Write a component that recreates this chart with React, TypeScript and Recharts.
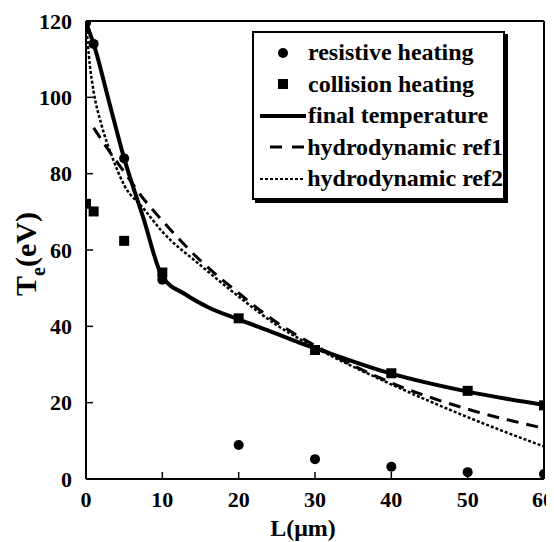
import { ComposedChart, Line, Scatter, XAxis, YAxis, Legend } from "recharts";

// L (µm) positions and Te (eV) values
const resistiveL = [0, 1, 5, 10, 20, 30, 40, 50, 60];
const resistiveT = [119.5, 114, 84, 52.2, 8.9, 5.2, 3.2, 1.8, 1.3];

const collisionL = [0, 1, 5, 10, 20, 30, 40, 50, 60];
const collisionT = [72.1, 70.1, 62.4, 54.1, 42.1, 33.8, 27.7, 23.1, 19.3];

const finalL = [0, 1, 3, 5, 7.5, 10, 13, 16, 20, 24, 28, 30, 40, 50, 60];
const finalT = [119.5, 114, 99, 84, 68.5, 53, 48.4, 45, 41.8, 38.8, 35.7, 34.3, 27.6, 22.9, 19.4];

const ref1L = [1, 3, 5, 7.5, 10, 15, 20, 25, 30, 40, 50, 60];
const ref1T = [92, 86, 80.5, 73.5, 67.7, 57.2, 48.7, 41, 35, 25.2, 18.3, 13.3];

const ref2L = [0, 0.5, 1, 2, 3.5, 5, 7.5, 10, 15, 20, 25, 30, 40, 50, 60];
const ref2T = [120, 108.5, 101.5, 93, 84, 77, 71, 64.8, 56, 47.8, 40.3, 34.5, 24.8, 16.2, 8.5];

const xTicks = [0, 10, 20, 30, 40, 50, 60];
const yTicks = [0, 20, 40, 60, 80, 100, 120];

const toPoints = (xs: number[], ys: number[]) => xs.map((x, i) => ({ x, y: ys[i] }));

const resistive = toPoints(resistiveL, resistiveT);
const collision = toPoints(collisionL, collisionT);
const finalTemp = toPoints(finalL, finalT);
const ref1 = toPoints(ref1L, ref1T);
const ref2 = toPoints(ref2L, ref2T);

const FONT = "Liberation Serif";

const tickStyle = { fontFamily: FONT, fontWeight: "bold", fontSize: 22, fill: "#000" };

const Dot = (props: any) => <circle cx={props.cx} cy={props.cy} r={5} fill="#000" />;
const Sq = (props: any) => (
  <rect x={props.cx - 5} y={props.cy - 5} width={10} height={10} fill="#000" />
);

const legendRows = [
  { label: "resistive heating", kind: "dot" },
  { label: "collision heating", kind: "square" },
  { label: "final temperature", kind: "solid" },
  { label: "hydrodynamic ref1", kind: "dashed" },
  { label: "hydrodynamic ref2", kind: "dotted" },
];

function LegendSymbol({ kind }: { kind: string }) {
  return (
    <svg width={46} height={20} style={{ display: "block" }}>
      {kind === "dot" && <circle cx={23} cy={10} r={5} fill="#000" />}
      {kind === "square" && <rect x={18} y={5} width={10} height={10} fill="#000" />}
      {kind === "solid" && <line x1={0} x2={46} y1={10} y2={10} stroke="#000" strokeWidth={4} />}
      {kind === "dashed" && (
        <line x1={10} x2={44} y1={10} y2={10} stroke="#000" strokeWidth={3} strokeDasharray="12 10" />
      )}
      {kind === "dotted" && (
        <line x1={0} x2={44} y1={10} y2={10} stroke="#000" strokeWidth={2} strokeDasharray="3 2" />
      )}
    </svg>
  );
}

function LegendBox() {
  return (
    <div
      style={{
        border: "2px solid #000",
        boxShadow: "3px 3px 0 #000",
        background: "#fff",
        padding: "4px 0 3px 6px",
        boxSizing: "border-box",
        width: 253,
      }}
    >
      {legendRows.map((r) => (
        <div
          key={r.label}
          style={{ display: "flex", alignItems: "center", height: 31.5, fontFamily: FONT, fontWeight: "bold", fontSize: 24 }}
        >
          <LegendSymbol kind={r.kind} />
          <span style={{ marginLeft: 2, whiteSpace: "nowrap" }}>{r.label}</span>
        </div>
      ))}
    </div>
  );
}

const YLabel = (props: any) => {
  const vb = props.viewBox;
  const cx = vb.x + 28;
  const cy = vb.y + vb.height / 2 + 4;
  return (
    <text
      x={cx}
      y={cy}
      transform={`rotate(-90, ${cx}, ${cy})`}
      textAnchor="middle"
      fontFamily={FONT}
      fontWeight="bold"
      fontSize={30}
      fill="#000"
    >
      <tspan>T</tspan>
      <tspan dy={9} fontSize={20}>e</tspan>
      <tspan dy={-9}>(eV)</tspan>
    </text>
  );
};

const XLabel = (props: any) => {
  const vb = props.viewBox;
  return (
    <text
      x={vb.x + vb.width / 2 - 12}
      y={vb.y + vb.height - 6}
      textAnchor="middle"
      fontFamily={FONT}
      fontWeight="bold"
      fontSize={24}
      fill="#000"
    >
      L(μm)
    </text>
  );
};

export default function App() {
  return (
    <div style={{ width: 546, height: 534 }}>
      <ComposedChart width={546} height={534} margin={{ top: 12, right: 8, bottom: 0, left: 0 }}>
        <XAxis
          xAxisId="b"
          dataKey="x"
          type="number"
          domain={[0, 60]}
          ticks={xTicks}
          allowDataOverflow
          height={63}
          tickSize={-7}
          tickMargin={19}
          tick={tickStyle}
          axisLine={{ stroke: "#000", strokeWidth: 2 }}
          tickLine={{ stroke: "#000", strokeWidth: 1.5 }}
          label={<XLabel />}
        />
        <XAxis
          xAxisId="t"
          orientation="top"
          type="number"
          domain={[0, 60]}
          ticks={xTicks}
          allowDataOverflow
          height={1}
          tickSize={-7}
          tick={false}
          axisLine={{ stroke: "#000", strokeWidth: 2 }}
          tickLine={{ stroke: "#000", strokeWidth: 1.5 }}
        />
        <YAxis
          yAxisId="l"
          dataKey="y"
          type="number"
          domain={[0, 120]}
          ticks={yTicks}
          allowDataOverflow
          width={78}
          tickSize={-7}
          tickMargin={21}
          tick={tickStyle}
          axisLine={{ stroke: "#000", strokeWidth: 2 }}
          tickLine={{ stroke: "#000", strokeWidth: 1.5 }}
          label={<YLabel />}
        />
        <YAxis
          yAxisId="r"
          orientation="right"
          type="number"
          domain={[0, 120]}
          ticks={yTicks}
          allowDataOverflow
          width={2}
          tickSize={-7}
          tick={false}
          axisLine={{ stroke: "#000", strokeWidth: 2 }}
          tickLine={{ stroke: "#000", strokeWidth: 1.5 }}
        />
        <Line
          xAxisId="b"
          yAxisId="l"
          data={ref2}
          dataKey="y"
          type="monotone"
          stroke="#000"
          strokeWidth={2.5}
          strokeDasharray="3 2"
          dot={false}
          isAnimationActive={false}
        />
        <Line
          xAxisId="b"
          yAxisId="l"
          data={ref1}
          dataKey="y"
          type="monotone"
          stroke="#000"
          strokeWidth={3}
          strokeDasharray="12 8"
          dot={false}
          isAnimationActive={false}
        />
        <Line
          xAxisId="b"
          yAxisId="l"
          data={finalTemp}
          dataKey="y"
          type="monotone"
          stroke="#000"
          strokeWidth={4}
          dot={false}
          isAnimationActive={false}
        />
        <Scatter xAxisId="b" yAxisId="l" data={resistive} dataKey="y" shape={Dot} isAnimationActive={false} />
        <Scatter xAxisId="b" yAxisId="l" data={collision} dataKey="y" shape={Sq} isAnimationActive={false} />
        <Legend
          layout="vertical"
          align="center"
          verticalAlign="middle"
          wrapperStyle={{ position: "absolute", left: 244, top: 23, width: 253 }}
          content={() => <LegendBox />}
        />
      </ComposedChart>
    </div>
  );
}
